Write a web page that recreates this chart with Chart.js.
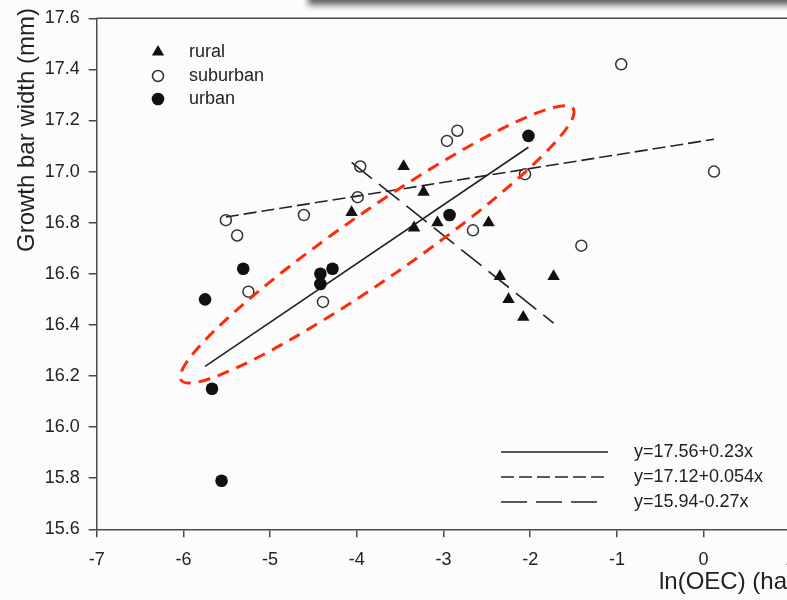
<!DOCTYPE html>
<html>
<head>
<meta charset="utf-8">
<title>Growth bar width vs ln(OEC)</title>
<script src="https://cdn.jsdelivr.net/npm/chart.js@4.4.1/dist/chart.umd.min.js"></script>
<style>
  html, body { margin: 0; padding: 0; overflow: hidden; background: #fcfcfc; }
  #wrap { width: 787px; height: 600px; overflow: hidden; }
  canvas { display: block; }
</style>
</head>
<body>
<div id="wrap"><canvas id="growthChart" width="800" height="600"></canvas></div>
<script>
// site measurements, x = ln(OEC) (ha), y = growth bar width (mm)
const ruralX = [-4.06, -3.46, -3.23, -3.34, -3.07, -2.48, -2.35, -2.25, -2.08, -1.73];
const ruralY = [16.84, 17.02, 16.92, 16.78, 16.80, 16.80, 16.59, 16.50, 16.43, 16.59];

const suburbanX = [-5.51, -5.38, -5.25, -4.61, -4.39, -3.99, -3.96, -2.96, -2.84, -2.66, -2.06, -1.41, -0.95, 0.12];
const suburbanY = [16.81, 16.75, 16.53, 16.83, 16.49, 16.90, 17.02, 17.12, 17.16, 16.77, 16.99, 16.71, 17.42, 17.00];

const urbanX = [-5.75, -5.67, -5.56, -5.31, -4.42, -4.42, -4.28, -2.93, -2.02];
const urbanY = [16.50, 16.15, 15.79, 16.62, 16.60, 16.56, 16.62, 16.83, 17.14];

// fitted lines: urban, suburban, rural
const fitIntercept = [17.56, 17.12, 15.94];
const fitSlope = [0.23, 0.054, -0.27];
const fitFrom = [-5.75, -5.51, -4.06];
const fitTo = [-2.02, 0.12, -1.73];
const fitLabels = ["y=17.56+0.23x", "y=17.12+0.054x", "y=15.94-0.27x"];
const fitDash = [[], [13, 5], [26, 9]];

const seriesNames = ["rural", "suburban", "urban"];

const xTicks = [-7, -6, -5, -4, -3, -2, -1, 0, 1];
const yTicks = [15.6, 15.8, 16.0, 16.2, 16.4, 16.6, 16.8, 17.0, 17.2, 17.4, 17.6];

const FONT = '"Liberation Sans", Arial, sans-serif';
const INK = "#222";
const AXIS = "#4a4a4a";

function pts(xs, ys) {
    return xs.map((x, i) => ({ x: x, y: ys[i] }));
}

function fitLine(i) {
    return [
        { x: fitFrom[i], y: fitIntercept[i] + fitSlope[i] * fitFrom[i] },
        { x: fitTo[i], y: fitIntercept[i] + fitSlope[i] * fitTo[i] }
    ];
}

Chart.defaults.font.family = FONT;
Chart.defaults.color = INK;

// page background and the dark band along the top edge
const backdrop = {
    id: "backdrop",
    beforeDraw(chart) {
        const ctx = chart.ctx;
        ctx.save();
        ctx.fillStyle = "#fcfcfc";
        ctx.fillRect(0, 0, chart.width, chart.height);
        ctx.filter = "blur(3px)";
        ctx.fillStyle = "rgba(70,70,70,0.85)";
        ctx.fillRect(308, -10, 520, 15);
        ctx.restore();
    }
};

// top frame line (the right one sits past the window edge)
const frame = {
    id: "frame",
    beforeDatasetsDraw(chart) {
        const { ctx, chartArea } = chart;
        ctx.save();
        ctx.strokeStyle = AXIS;
        ctx.lineWidth = 1.5;
        ctx.beginPath();
        ctx.moveTo(chartArea.left, chartArea.top);
        ctx.lineTo(chartArea.right, chartArea.top);
        ctx.lineTo(chartArea.right, chartArea.bottom);
        ctx.stroke();
        ctx.restore();
    }
};

// red dashed ellipse around the urban trend
const ellipseMark = {
    id: "ellipseMark",
    afterDatasetsDraw(chart) {
        const { ctx, scales } = chart;
        const tips = [[-6.04, 16.18], [-1.49, 17.25]];
        const x1 = scales.x.getPixelForValue(tips[0][0]);
        const y1 = scales.y.getPixelForValue(tips[0][1]);
        const x2 = scales.x.getPixelForValue(tips[1][0]);
        const y2 = scales.y.getPixelForValue(tips[1][1]);
        const cx = (x1 + x2) / 2, cy = (y1 + y2) / 2;
        const a = Math.hypot(x2 - x1, y2 - y1) / 2 - 1.5;
        const ang = Math.atan2(y2 - y1, x2 - x1);
        ctx.save();
        ctx.strokeStyle = "#ff2a0a";
        ctx.lineWidth = 3;
        ctx.setLineDash([12, 8]);
        ctx.beginPath();
        ctx.ellipse(cx, cy, a, 34, ang, 0, Math.PI * 2);
        ctx.stroke();
        ctx.restore();
    }
};

// symbol legend, equation legend and axis titles
const annotations = {
    id: "annotations",
    afterDraw(chart) {
        const ctx = chart.ctx;
        ctx.save();
        ctx.font = "18px " + FONT;
        ctx.textBaseline = "middle";
        ctx.textAlign = "left";
        ctx.fillStyle = INK;

        const symY = [52, 76, 99];
        // triangle
        ctx.fillStyle = "#111";
        ctx.beginPath();
        ctx.moveTo(158, symY[0] - 7);
        ctx.lineTo(158 + 6.1, symY[0] + 3.5);
        ctx.lineTo(158 - 6.1, symY[0] + 3.5);
        ctx.closePath();
        ctx.fill();
        // open circle
        ctx.strokeStyle = "#333";
        ctx.lineWidth = 1.5;
        ctx.beginPath();
        ctx.arc(158, symY[1], 5.5, 0, Math.PI * 2);
        ctx.stroke();
        // filled circle
        ctx.beginPath();
        ctx.arc(158, symY[2], 6.3, 0, Math.PI * 2);
        ctx.fill();

        ctx.fillStyle = INK;
        seriesNames.forEach((name, i) => ctx.fillText(name, 189, symY[i]));

        const eqY = [452, 477, 502];
        const eqEnd = [608, 608, 598];
        ctx.strokeStyle = "#222";
        ctx.lineWidth = 1.6;
        fitLabels.forEach((label, i) => {
            ctx.setLineDash(fitDash[i]);
            ctx.beginPath();
            ctx.moveTo(501, eqY[i]);
            ctx.lineTo(eqEnd[i], eqY[i]);
            ctx.stroke();
            ctx.fillText(label, 634, eqY[i]);
        });
        ctx.setLineDash([]);

        ctx.font = "24px " + FONT;
        ctx.fillText("ln(OEC) (ha)", 659, 582);

        ctx.translate(27, 130);
        ctx.rotate(-Math.PI / 2);
        ctx.textAlign = "center";
        ctx.fillText("Growth bar width (mm)", 0, 0);
        ctx.restore();
    }
};

const datasets = [
    {
        label: seriesNames[0],
        data: pts(ruralX, ruralY),
        pointStyle: "triangle",
        pointRadius: 7.2,
        backgroundColor: "#111",
        borderColor: "#111",
        borderWidth: 0
    },
    {
        label: seriesNames[1],
        data: pts(suburbanX, suburbanY),
        pointStyle: "circle",
        pointRadius: 5.5,
        backgroundColor: "rgba(0,0,0,0)",
        borderColor: "#333",
        borderWidth: 1.5
    },
    {
        label: seriesNames[2],
        data: pts(urbanX, urbanY),
        pointStyle: "circle",
        pointRadius: 6.3,
        backgroundColor: "#111",
        borderColor: "#111",
        borderWidth: 0
    }
];

fitLabels.forEach((label, i) => {
    datasets.push({
        type: "line",
        label: label,
        data: fitLine(i),
        showLine: true,
        pointRadius: 0,
        borderColor: "#222",
        borderWidth: 1.6,
        borderDash: fitDash[i],
        fill: false
    });
});

new Chart(document.getElementById("growthChart").getContext("2d"), {
    type: "scatter",
    data: { datasets: datasets },
    options: {
        responsive: false,
        animation: false,
        events: [],
        layout: { padding: { top: 18.3, right: 9.7, left: 0, bottom: 0 } },
        plugins: {
            legend: { display: false },
            tooltip: { enabled: false }
        },
        scales: {
            x: {
                type: "linear",
                min: -7,
                max: 1,
                afterFit: scale => {
                    scale.height = 70.7;
                    scale.paddingLeft = 0;
                    scale.paddingRight = 0;
                },
                afterBuildTicks: scale => { scale.ticks = xTicks.map(v => ({ value: v })); },
                grid: { drawOnChartArea: false, drawTicks: true, tickLength: 8, color: AXIS, lineWidth: 1.5 },
                border: { display: true, color: AXIS, width: 1.5 },
                ticks: { font: { size: 18 }, color: INK, padding: 12, maxRotation: 0 }
            },
            y: {
                type: "linear",
                min: 15.6,
                max: 17.6,
                afterFit: scale => {
                    scale.width = 96.7;
                    scale.paddingTop = 0;
                    scale.paddingBottom = 0;
                },
                afterBuildTicks: scale => { scale.ticks = yTicks.map(v => ({ value: v })); },
                grid: { drawOnChartArea: false, drawTicks: true, tickLength: 8, color: AXIS, lineWidth: 1.5 },
                border: { display: true, color: AXIS, width: 1.5 },
                ticks: {
                    font: { size: 18 },
                    color: INK,
                    padding: 9,
                    callback: v => Number(v).toFixed(1)
                }
            }
        }
    },
    plugins: [backdrop, frame, ellipseMark, annotations]
});
</script>
</body>
</html>
